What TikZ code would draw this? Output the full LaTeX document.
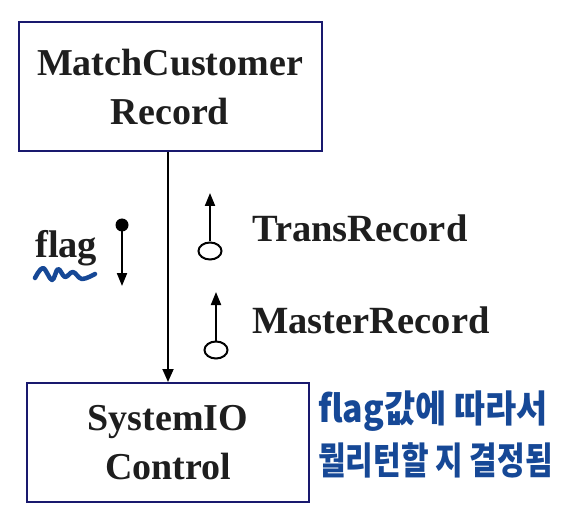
\documentclass[tikz,border=0pt]{standalone}
\usepackage{fontspec}
\setmainfont{Liberation Serif}
\newfontfamily\hanfont{Noto Sans CJK KR}
\usepackage{xcolor}
\definecolor{boxnavy}{RGB}{25,25,110}
\definecolor{penblue}{RGB}{22,72,150}
\definecolor{inkgray}{RGB}{30,30,30}
\usetikzlibrary{arrows.meta,shapes.geometric}
\tikzset{
  module box/.style={draw=boxnavy, line width=2pt, align=center, text=inkgray, inner sep=0pt, font=\bfseries\fontsize{38}{49}\selectfont},
  couple label/.style={anchor=base west, inner sep=0pt, text=inkgray, font=\bfseries\fontsize{38.5}{40}\selectfont},
  call edge/.style={-{Triangle[length=13pt,width=11pt]}, line width=1.8pt},
  couple edge/.style={-{Triangle[length=13pt,width=10pt]}, line width=2pt},
  data end/.style={draw, ellipse, line width=2pt, minimum width=23pt, minimum height=17pt, inner sep=0pt},
  control end/.style={circle, fill, minimum size=13pt, inner sep=0pt},
  pen note/.style={anchor=base west, inner sep=0pt, text=penblue, font=\hanfont\bfseries\fontsize{30}{36}\selectfont},
}

\begin{document}
\begin{tikzpicture}[x=1pt, y=-1pt]
  \useasboundingbox (0,0) rectangle (585,526);
  % modules
  \node[module box, minimum width=303pt, minimum height=129pt] (match) at (170,87) {MatchCustomer\\Record};
  \node[module box, minimum width=282pt, minimum height=119pt] (sysio) at (168,442.5) {SystemIO\\Control};
  \draw[call edge] (match.south -| sysio.north) -- (sysio.north);
  % couples
  \node[control end] (flagdot) at (122,225) {};
  \coordinate (flagtip) at (122,286);
  \draw[couple edge] (flagdot.center) -- (flagtip);
  \node[couple label] (flaglbl) at (35,258) {flag};
  \node[data end] (transend) at (210,251) {};
  \coordinate (transtip) at (210,193);
  \draw[couple edge] (transend.north) -- (transtip);
  \node[couple label] (translbl) at (252,242) {TransRecord};
  \node[data end] (masterend) at (216,350) {};
  \coordinate (mastertip) at (216,292);
  \draw[couple edge] (masterend.north) -- (mastertip);
  \node[couple label] (masterlbl) at (252,333) {MasterRecord};
  % handwritten notes
  \draw[penblue, line width=4.5pt, line cap=round, line join=round] plot[smooth, tension=0.6] coordinates {(35,278) (43,268) (52,280) (58,269) (65,277) (73,272) (82,279) (95,274)};
  \node[pen note] (note1) at (318,422) {\scalebox{1.13}[1.25]{flag값에 따라서}};
  \node[pen note] (note2) at (318,474) {\scalebox{1}[1.25]{뭘리턴할 지 결정됨}};
\end{tikzpicture}
\end{document}
